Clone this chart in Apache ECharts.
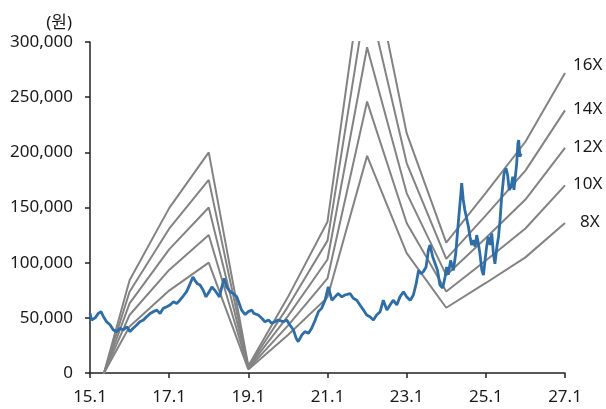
<!DOCTYPE html>
<html>
<head>
<meta charset="utf-8">
<script src="https://cdn.jsdelivr.net/npm/echarts@6/dist/echarts.min.js"></script>
<style>
html,body{margin:0;padding:0;background:#fff;}
#chart{width:606px;height:409px;}
</style>
</head>
<body>
<div id="chart"></div>
<script>
// ---- data ----
var xTickYears = [2015, 2017, 2019, 2021, 2023, 2025, 2027];
var epsYears = [2015, 2016, 2017, 2018, 2019, 2020, 2021, 2022, 2023, 2024, 2025, 2026, 2027];
var epsValues = [-2880, 5260, 9340, 12500, 400, 4300, 8570, 24600, 13590, 7390, 10200, 13100, 17000];
var multiples = [16, 14, 12, 10, 8];
var bandLabels = ['16X', '14X', '12X', '10X', '8X'];

var priceDates = [
 2015.00,2015.04,2015.13,2015.21,2015.28,2015.34,2015.42,2015.51,2015.59,2015.68,2015.76,2015.84,2015.93,
 2016.01,2016.09,2016.18,2016.26,2016.35,2016.43,2016.52,2016.60,2016.69,2016.77,2016.85,2016.94,
 2017.02,2017.11,2017.19,2017.27,2017.36,2017.44,2017.53,2017.60,2017.65,2017.71,2017.78,2017.86,2017.93,
 2018.01,2018.08,2018.12,2018.18,2018.27,2018.33,2018.39,2018.45,2018.54,2018.62,2018.71,2018.77,2018.83,2018.92,
 2019.00,2019.09,2019.14,2019.25,2019.34,2019.42,2019.51,2019.59,2019.67,2019.75,2019.80,2019.88,2019.97,
 2020.05,2020.14,2020.21,2020.26,2020.35,2020.43,2020.52,2020.60,2020.69,2020.77,2020.85,2020.94,
 2021.02,2021.11,2021.19,2021.27,2021.36,2021.44,2021.57,2021.65,2021.74,2021.82,2021.91,2021.99,
 2022.07,2022.16,2022.24,2022.33,2022.41,2022.50,2022.58,2022.66,2022.75,2022.83,2022.92,
 2023.00,2023.09,2023.17,2023.24,2023.30,2023.36,2023.42,2023.49,2023.55,2023.59,2023.66,2023.72,2023.78,2023.84,2023.91,2023.97,
 2024.01,2024.05,2024.11,2024.18,2024.24,2024.31,2024.37,2024.39,2024.43,2024.47,2024.52,2024.56,2024.60,2024.64,2024.68,2024.73,2024.77,2024.81,2024.85,2024.90,2024.94,2024.98,
 2025.02,2025.06,2025.11,2025.15,2025.19,2025.23,2025.28,2025.32,2025.36,2025.40,2025.46,2025.51,2025.55,2025.59,2025.64,2025.68,2025.71,2025.75,2025.78,2025.81,2025.83,2025.86,2025.89
];
var priceValues = [
 54000,48000,50000,54000,55600,51000,46500,43500,39000,37500,40500,39000,42000,
 37500,40500,43500,46500,48000,51000,54000,55600,57000,54000,58600,60000,
 61600,64600,63000,66000,70000,73700,81000,87000,84000,81000,79700,75000,69000,
 73700,78000,79700,73700,69000,78000,85800,78000,73700,72000,69000,63000,57000,53000,
 55600,57000,54000,52600,49600,46500,48000,45000,46500,48000,49600,46500,48000,
 43500,39000,31400,28400,34400,37500,36000,40500,48000,55600,58600,66000,
 78000,66000,69000,72000,69000,70700,72000,67700,66000,61600,57000,52600,
 51000,48000,52600,55600,66000,57000,61600,66000,61600,69000,73700,
 69000,66000,70700,81000,93000,90000,91800,96000,111500,116000,105000,99000,93000,79700,77000,87000,
 96000,89000,102000,93000,108500,138700,162900,172000,156800,147700,149300,132600,123500,116000,120500,114500,125000,117600,108500,93000,88800,102000,
 114500,123500,116000,126600,108500,99000,114500,123500,138700,159800,181000,185500,179500,165900,168900,177900,165900,179500,190000,208000,211000,196000,199000
];

function withCommas(v){ return String(v).replace(/\B(?=(\d{3})+(?!\d))/g, ','); }

var FONT = "'Noto Sans', 'Noto Sans CJK KR', sans-serif";
var series = [];
multiples.forEach(function(m, i){
  var pts = epsYears.map(function(y, k){ return [y, epsValues[k] * m]; });
  series.push({
    type: 'line',
    name: bandLabels[i],
    data: pts,
    symbol: 'none',
    clip: true,
    z: 2,
    lineStyle: { color: '#838383', width: 2 },
    endLabel: {
      show: true,
      formatter: bandLabels[i],
      color: '#1a1a1a',
      fontSize: 17,
      fontFamily: FONT,
      distance: bandLabels[i].length === 2 ? 15 : 8,
      offset: i === 0 ? [0, -8] : [0, -1]
    }
  });
});
series.push({
  type: 'line',
  name: 'price',
  data: priceDates.map(function(d, k){ return [d, priceValues[k]]; }),
  symbol: 'none',
  z: 5,
  lineStyle: { color: '#2E6DA6', width: 2.8 }
});

var chart = echarts.init(document.getElementById('chart'), null, {renderer: 'canvas'});
chart.setOption({
  animation: false,
  backgroundColor: '#ffffff',
  textStyle: { fontFamily: FONT },
  grid: { left: 90, right: 41, top: 42, bottom: 36, containLabel: false },
  xAxis: {
    type: 'value',
    min: xTickYears[0],
    max: xTickYears[xTickYears.length - 1],
    interval: 2,
    splitLine: { show: false },
    axisLine: { show: true, onZero: false, lineStyle: { color: '#222', width: 1.5 } },
    axisTick: { show: true, length: 5, lineStyle: { color: '#222', width: 1.5 } },
    axisLabel: {
      color: '#1a1a1a', fontSize: 17, fontFamily: FONT, margin: 16,
      formatter: function(v){ return (v % 100) + '.1'; }
    }
  },
  yAxis: {
    type: 'value',
    min: 0, max: 300000, interval: 50000,
    name: '(원)',
    nameLocation: 'end',
    nameGap: 10,
    nameTextStyle: { color: '#1a1a1a', fontSize: 17, fontFamily: FONT, align: 'right', verticalAlign: 'bottom', padding: [0, 18, 0, 0] },
    splitLine: { show: false },
    axisLine: { show: true, lineStyle: { color: '#222', width: 1.5 } },
    axisTick: { show: true, length: 5, lineStyle: { color: '#222', width: 1.5 } },
    axisLabel: { color: '#1a1a1a', fontSize: 17, fontFamily: FONT, margin: 17, formatter: withCommas }
  },
  series: series
});
</script>
</body>
</html>
